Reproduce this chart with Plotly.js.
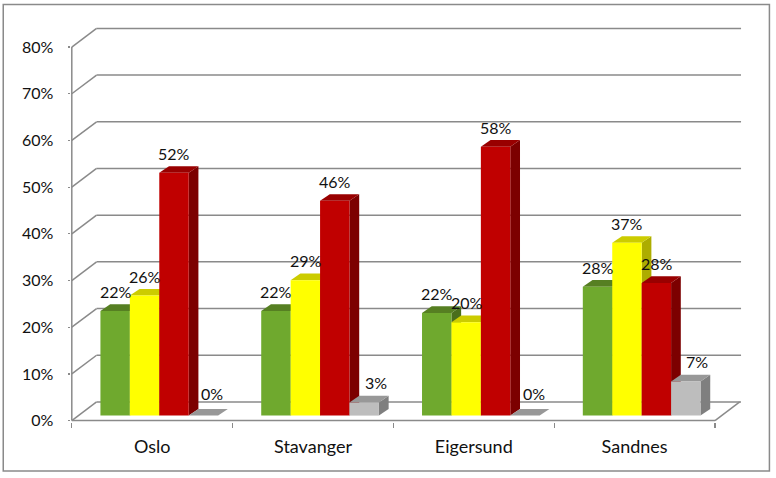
<!DOCTYPE html>
<html>
<head>
<meta charset="utf-8">
<script src="https://cdn.plot.ly/plotly-3.0.1.min.js"></script>
<style>html,body{margin:0;padding:0;background:#fff}</style>
</head>
<body>
<div id="chart" style="width:776px;height:478px"></div>
<script>
const categories = ["Oslo", "Stavanger", "Eigersund", "Sandnes"];
const greenValues = [22.4, 22.4, 22, 27.6];
const yellowValues = [25.7, 29, 20, 37];
const redValues = [52, 46, 57.6, 28.4];
const greyValues = [0, 2.8, 0, 7.3];
const tickValues = [0, 10, 20, 30, 40, 50, 60, 70, 80];
const tickLabels = ["0%", "10%", "20%", "30%", "40%", "50%", "60%", "70%", "80%"];

const seriesValues = [greenValues, yellowValues, redValues, greyValues];
const seriesNames = ["Green", "Yellow", "Red", "Grey"];
const frontColors = ["#6FA92E", "#FFFF00", "#C00000", "#BDBDBD"];
const topColors = ["#567F22", "#CCCC00", "#990000", "#989898"];
const sideColors = ["#4A6E1C", "#ADAD00", "#7C0000", "#7F7F7F"];

const gridColor = "#8A8A8A";
const baseLevel = 1.07;
const barWidth = 0.183;
const groupShift = 0.044;
const depthX = 0.0604, depthY = 1.43;
const wallX = 0.154, wallY = 4.0;
const xLeft = -0.5, xRight = 3.5;

const barX = (c, s) => c + groupShift + (s - 2) * barWidth;

const poly = (pts, fill) => ({
  type: "path", xref: "x", yref: "y", layer: "below",
  path: "M" + pts.map(p => p[0] + "," + p[1]).join(" L") + " Z",
  fillcolor: fill, line: {width: 0}
});
const segment = (x0, y0, x1, y1) => ({
  type: "line", xref: "x", yref: "y", layer: "below",
  x0, y0, x1, y1, line: {color: gridColor, width: 1.5}
});

const margin = {l: 71.2, r: 34.4, t: 27, b: 55.6, pad: 0};
const plotW = 776 - margin.l - margin.r, plotH = 478 - margin.t - margin.b;

const shapes = [];
// outer frame
shapes.push({type: "rect", xref: "paper", yref: "paper", layer: "above",
  x0: (3.5 - margin.l) / plotW, x1: (769 - margin.l) / plotW,
  y0: (478 - 471.5 - margin.b) / plotH, y1: (478 - 4.5 - margin.b) / plotH,
  line: {color: gridColor, width: 1.5}, fillcolor: "rgba(0,0,0,0)"});
// walls
tickValues.forEach(v => {
  shapes.push(segment(xLeft, v, xLeft + wallX, v + wallY));
  shapes.push(segment(xLeft + wallX, v + wallY, xRight + wallX + 0.008, v + wallY));
});
shapes.push(segment(xLeft, 0, xLeft, 80));
shapes.push(segment(xLeft, 0, xRight, 0));
shapes.push(segment(xRight, 0, xRight + wallX, wallY));

// 3-D faces, series by series so later series overlap earlier ones
seriesValues.forEach((vals, s) => {
  vals.forEach((v, c) => {
    const x0 = barX(c, s), x1 = x0 + barWidth;
    const y0 = baseLevel, y1 = baseLevel + v;
    shapes.push(poly([[x1, y0], [x1 + depthX, y0 + depthY], [x1 + depthX, y1 + depthY], [x1, y1]], sideColors[s]));
    shapes.push(poly([[x0, y1], [x0 + depthX, y1 + depthY], [x1 + depthX, y1 + depthY], [x1, y1]], topColors[s]));
  });
});

// front faces
const traces = seriesValues.map((vals, s) => ({
  type: "bar",
  name: seriesNames[s],
  x: categories,
  y: vals,
  base: baseLevel,
  width: barWidth,
  offset: groupShift + (s - 2) * barWidth,
  marker: {color: frontColors[s], line: {width: 0}},
  hoverinfo: "skip"
}));

// data labels
const annotations = [];
seriesValues.forEach((vals, s) => {
  vals.forEach((v, c) => {
    annotations.push({
      xref: "x", yref: "y", showarrow: false,
      x: barX(c, s) + barWidth / 2,
      y: baseLevel + v + (v === 0 ? 4.7 : 4.2),
      xshift: s === 3 ? (v === 0 ? 8.5 : 11.5) : 0.5,
      text: Math.round(v) + "%",
      xanchor: "center", yanchor: "middle",
      font: {family: "Lato, 'Open Sans', sans-serif", size: 16, color: "#111"}
    });
  });
});

const layout = {
  width: 776, height: 478,
  margin,
  paper_bgcolor: "#fff", plot_bgcolor: "#fff",
  showlegend: false, barmode: "overlay",
  font: {family: "Lato, 'Open Sans', sans-serif", size: 16, color: "#111"},
  xaxis: {
    type: "category", range: [-0.505, 3.668], categoryorder: "array", categoryarray: categories,
    tickson: "boundaries", ticks: "outside", ticklen: 5, tickwidth: 1.3, tickcolor: gridColor,
    showgrid: false, zeroline: false, showline: false, ticklabelstandoff: 12,
    tickfont: {size: 18}
  },
  yaxis: {
    range: [-0.3, 84.3], tickmode: "array", tickvals: tickValues, ticktext: tickLabels,
    ticks: "outside", ticklen: 2.5, tickwidth: 1.3, tickcolor: gridColor,
    showgrid: false, zeroline: false, showline: false, ticklabelstandoff: 11,
    tickfont: {size: 16}
  },
  shapes,
  annotations
};

Plotly.newPlot("chart", traces, layout, {displayModeBar: false, staticPlot: true});
</script>
</body>
</html>
